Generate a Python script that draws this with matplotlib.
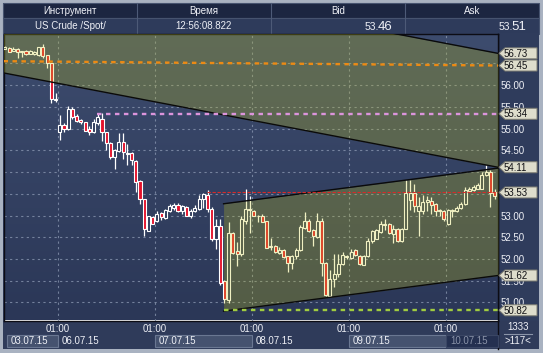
import matplotlib
matplotlib.use("Agg")
import matplotlib.pyplot as plt
from matplotlib.patches import Rectangle, Polygon
from matplotlib.colors import LinearSegmentedColormap
from matplotlib.transforms import blended_transform_factory
import numpy as np

plt.rcParams['font.family'] = ['Liberation Sans', 'DejaVu Sans']

# hourly candles, US Crude /Spot/, 03.07.15 .. 10.07.15
opens = [56.84, 56.86, 56.79, 56.83, 56.75, 56.78, 56.72, 56.71, 56.69, 56.87,
         56.69, 56.50, 55.65, 54.91, 55.09, 54.98, 55.45, 55.29, 55.19, 55.14,
         54.99, 54.91, 55.13, 55.23, 54.91, 54.66, 54.35, 54.48, 54.68, 54.44,
         54.44, 54.26, 53.80, 53.37, 52.65, 52.97, 52.87, 53.05, 52.94, 53.10,
         53.17, 53.25, 53.10, 53.20, 53.00, 53.10, 53.16, 53.37, 53.47, 53.14,
         52.47, 52.77, 51.49, 51.05, 52.60, 52.18, 52.12, 52.88, 53.13, 53.10,
         52.99, 53.00, 52.87, 52.28, 52.31, 52.14, 52.21, 52.06, 51.91, 52.06,
         52.20, 52.72, 52.87, 52.66, 52.51, 52.87, 51.91, 51.16, 51.55, 51.65,
         51.88, 52.05, 52.03, 52.20, 52.08, 51.87, 52.06, 52.41, 52.47, 52.62,
         52.78, 52.81, 52.58, 52.70, 52.41, 52.70, 53.35, 53.52, 53.10, 53.10,
         53.30, 53.33, 53.26, 53.12, 53.10, 52.80, 53.10, 53.10, 53.18, 53.26,
         53.57, 53.58, 53.62, 53.62, 53.93, 54.00, 53.54]
highs = [56.90, 56.88, 56.88, 56.86, 56.79, 56.80, 56.80, 56.78, 56.88, 56.94,
         56.70, 56.51, 55.81, 55.31, 55.13, 55.52, 55.49, 55.33, 55.23, 55.15,
         55.05, 55.23, 55.35, 55.35, 54.93, 54.70, 54.54, 54.89, 54.89, 54.64,
         54.46, 54.27, 53.81, 53.38, 53.00, 52.99, 53.10, 53.07, 53.14, 53.26,
         53.28, 53.28, 53.24, 53.22, 53.16, 53.24, 53.47, 53.52, 53.58, 53.19,
         52.91, 52.91, 51.52, 52.85, 52.62, 52.39, 52.98, 53.62, 53.45, 53.12,
         53.02, 53.04, 52.88, 52.49, 52.33, 52.28, 52.24, 52.08, 52.10, 52.26,
         52.78, 53.08, 52.91, 52.70, 53.06, 52.95, 51.93, 51.74, 52.11, 52.11,
         52.16, 52.10, 52.22, 52.24, 52.09, 52.09, 52.48, 52.66, 52.70, 52.88,
         52.93, 52.83, 52.78, 52.72, 52.72, 53.81, 53.81, 53.73, 53.43, 53.47,
         53.44, 53.43, 53.28, 53.15, 53.12, 53.15, 53.14, 53.21, 53.31, 53.66,
         53.66, 53.70, 53.74, 54.00, 54.16, 54.04, 53.60]
lows = [56.83, 56.75, 56.78, 56.63, 56.65, 56.69, 56.71, 56.70, 56.68, 56.63,
        56.40, 55.58, 55.62, 54.73, 54.91, 54.97, 55.22, 55.14, 55.10, 54.94,
        54.85, 54.90, 55.08, 54.71, 54.50, 54.31, 54.08, 54.46, 54.29, 54.16,
        54.16, 53.54, 53.26, 52.54, 52.64, 52.80, 52.85, 52.90, 52.92, 53.08,
        53.13, 53.08, 53.04, 52.99, 52.95, 53.07, 53.12, 53.18, 53.08, 52.41,
        52.24, 51.41, 50.98, 50.98, 52.12, 51.85, 52.08, 52.80, 52.60, 52.98,
        52.86, 52.84, 52.25, 52.21, 52.14, 52.12, 52.02, 51.70, 51.78, 51.99,
        52.18, 52.70, 52.62, 52.31, 52.49, 51.60, 51.16, 51.14, 51.35, 51.58,
        51.86, 51.99, 51.99, 52.06, 51.87, 51.86, 52.04, 52.37, 52.45, 52.60,
        52.66, 52.57, 52.37, 52.39, 52.38, 52.68, 53.12, 53.07, 52.54, 53.03,
        53.10, 53.04, 52.98, 52.99, 52.87, 52.78, 52.97, 53.07, 53.14, 53.24,
        53.55, 53.56, 53.60, 53.60, 53.91, 53.20, 53.39]
closes = [56.88, 56.77, 56.83, 56.75, 56.78, 56.71, 56.79, 56.77, 56.87, 56.68,
          56.50, 55.68, 55.69, 55.09, 54.98, 55.45, 55.27, 55.17, 55.14, 54.95,
          54.91, 55.14, 55.27, 54.93, 54.66, 54.35, 54.50, 54.68, 54.45, 54.42,
          54.27, 53.76, 53.37, 52.68, 52.98, 52.81, 53.04, 52.96, 53.12, 53.21,
          53.25, 53.10, 53.21, 53.00, 53.10, 53.17, 53.39, 53.49, 53.14, 52.47,
          52.75, 51.45, 51.09, 52.60, 52.14, 52.12, 52.93, 53.14, 53.12, 53.00,
          52.98, 52.85, 52.26, 52.27, 52.16, 52.21, 52.04, 51.91, 52.08, 52.21,
          52.74, 52.87, 52.64, 52.52, 52.87, 51.91, 51.18, 51.55, 51.65, 51.88,
          52.10, 52.06, 52.16, 52.10, 51.88, 52.08, 52.41, 52.64, 52.67, 52.80,
          52.81, 52.60, 52.70, 52.41, 52.70, 53.52, 53.52, 53.21, 53.21, 53.31,
          53.35, 53.24, 53.10, 53.11, 52.93, 53.12, 53.13, 53.18, 53.27, 53.58,
          53.62, 53.66, 53.70, 53.93, 54.00, 53.52, 53.44]

day_labels = ["03.07.15", "06.07.15", "07.07.15", "08.07.15", "09.07.15", "10.07.15"]
day_start = [13, 36, 59, 82, 105]      # index of the 01:00 candle of each day
price_ticks = [51.0, 51.5, 52.0, 52.5, 53.0, 53.5, 54.0, 54.5, 55.0, 55.5, 56.0, 56.5]
hidden_ticks = [53.5, 54.0, 56.5]      # covered by price tags on the scale
tag_values = [56.73, 56.45, 55.34, 54.11, 53.53, 51.62, 50.82]

# drawn objects: two channels and some levels
down_chan = [56.28, 54.11]
down_width = 2.62
up_chan = [50.80, 51.62]
up_width = 2.47
up_from = 51.8
orange_level = [56.55, 56.45]
violet_level, violet_from = 55.34, 21.8
red_level, red_from = 53.53, 47.8
green_level, green_from = 50.82, 51.8

header = ["Инструмент", "Время", "Bid", "Ask"]
instrument = "US Crude /Spot/"
quote_time = "12:56:08.822"
bid = ("53.", "46")
ask = ("53.", "51")
counters = ("1333", ">117<")

W, H = 543, 353
fig = plt.figure(figsize=(W / 100, H / 100), dpi=100)
fig.patch.set_facecolor('#a9b2c1')

# background panels, pixel coordinates
bg = fig.add_axes([0, 0, 1, 1], zorder=0)
bg.set_xlim(0, W)
bg.set_ylim(H, 0)
bg.axis('off')
bg.add_patch(Rectangle((3, 3), 536, 346, fc='#2f3b5a', ec='none'))
bg.add_patch(Rectangle((3, 3), 536, 15, fc='#1c2641', ec='#46536f', lw=0.8))
bg.add_patch(Rectangle((3, 18), 536, 16, fc='#2e3b5b', ec='#46536f', lw=0.8))
col_w = 536 / 4
for k in range(1, 4):
    bg.plot([3 + k * col_w] * 2, [3, 34], color='#4d5a77', lw=0.8)
for k, name in enumerate(header):
    bg.text(3 + (k + 0.5) * col_w, 11, name, ha='center', va='center',
            color='#eef0f6', fontsize=7)
bg.text(3 + 0.5 * col_w, 26, instrument, ha='center', va='center', color='#eef0f6', fontsize=7)
bg.text(3 + 1.5 * col_w, 26, quote_time, ha='center', va='center', color='#eef0f6', fontsize=7)
for k, q in ((2, bid), (3, ask)):
    xr = 3 + (k + 1) * col_w - 13
    bg.text(xr, 26.5, q[1], ha='right', va='center', color='#eef0f6', fontsize=9.5)
    bg.text(xr - 13, 27, q[0], ha='right', va='center', color='#eef0f6', fontsize=7.5)
bg.add_patch(Rectangle((498, 34), 41, 287, fc='#2f3c5c', ec='none'))
bg.text(518, 327, counters[0], ha='center', va='center', color='#eef0f6', fontsize=7)
bg.plot([504, 532], [334, 334], color='#8a94a8', lw=0.8)
bg.text(518, 341, counters[1], ha='center', va='center', color='#eef0f6', fontsize=7)
bg.plot([498, 498], [34, 349], color='#0c0c14', lw=1)

# price chart
ax = fig.add_axes([3.5 / W, (H - 320.5) / H, 494.5 / W, 286.5 / H], zorder=1)
xmin, xmax = -0.33, 116.8
ylo, yhi = 50.585, 57.175
cmap = LinearSegmentedColormap.from_list('bgv', ['#3d4c6e', '#2b3757'])
ax.imshow(np.linspace(0, 1, 256).reshape(-1, 1), extent=[xmin, xmax, ylo, yhi],
          aspect='auto', cmap=cmap, zorder=0)

idx = np.arange(len(opens))
o = np.array(opens)
c = np.array(closes)
up = c >= o
body_lo = np.minimum(o, c)
body_h = np.maximum(np.abs(c - o), 0.02)
ax.vlines(idx, lows, highs, color='white', lw=0.9, zorder=2)
ax.bar(idx, body_h, bottom=body_lo, width=0.72,
       color=np.where(up, '#2e3a5a', '#e4122c'), edgecolor='white', lw=0.8, zorder=3)

# channels (semi-transparent yellow over candles)
xs = [xmin, xmax]
down_up = [v + down_width for v in down_chan]
ax.fill_between(xs, down_chan, down_up, color='#c8c814', alpha=0.26, lw=0, zorder=4)
ax.plot(xs, down_chan, color='#0a0a0a', lw=1, zorder=5)
ax.plot(xs, down_up, color='#0a0a0a', lw=1, zorder=5)
xs2 = [up_from, xmax]
up_up = [v + up_width for v in up_chan]
ax.fill_between(xs2, up_chan, up_up, color='#c8c814', alpha=0.26, lw=0, zorder=4)
ax.plot(xs2, up_chan, color='#0a0a0a', lw=1, zorder=5)
ax.plot(xs2, up_up, color='#0a0a0a', lw=1, zorder=5)

ax.plot(xs, orange_level, color='#ec8a14', lw=1.7, ls=(0, (1.9, 1.9)), zorder=6)
ax.plot([violet_from, xmax], [violet_level] * 2, color='#dc94dc', lw=1.7, ls=(0, (1.9, 1.9)), zorder=6)
ax.plot([red_from, xmax], [red_level] * 2, color='#d82a28', lw=0.8, ls=(0, (3, 1.5)), zorder=6)
ax.plot([green_from, xmax], [green_level] * 2, color='#a0cc40', lw=1.7, ls=(0, (1.9, 1.9)), zorder=6)

ax.set_xlim(xmin, xmax)
ax.set_ylim(ylo, yhi)
ax.yaxis.tick_right()
ax.set_yticks(price_ticks)
ax.set_yticklabels(["" if v in hidden_ticks else f"{v:.2f}" for v in price_ticks])
grid_x = [d - 0.5 for d in day_start]
ax.set_xticks(grid_x)
ax.set_xticklabels(["01:00"] * len(grid_x))
ax.tick_params(axis='both', length=0, labelcolor='#eef0f6', labelsize=7)
ax.tick_params(axis='y', pad=2)
ax.tick_params(axis='x', pad=2.5)
ax.grid(True, color='#8794ae', lw=0.8, ls=(0, (2, 3)), alpha=0.8)
ax.set_axisbelow(True)
for s in ax.spines.values():
    s.set_color('#0c0c14')
    s.set_linewidth(1)

# date boxes under the time axis
trans = blended_transform_factory(ax.transData, ax.transAxes)
edges = [xmin + 0.8] + grid_x + [xmax - 0.1]
for k, lab in enumerate(day_labels):
    x0, x1 = edges[k], edges[k + 1]
    last = k == len(day_labels) - 1
    if last:
        fc, ec, tc = '#243050', '#3a4664', '#8a93a8'
    elif k % 2 == 0:
        fc, ec, tc = '#45526f', '#6a7792', '#eef0f6'
    else:
        fc, ec, tc = 'none', 'none', '#eef0f6'
    ax.add_patch(Rectangle((x0, -0.0925), x1 - x0, 0.042, transform=trans, fc=fc, ec=ec,
                           lw=0.8, clip_on=False, zorder=1))
    ax.text(x0 + 0.9, -0.0715, lab, transform=trans, ha='left', va='center',
            color=tc, fontsize=7, clip_on=False)

# price tags on the right scale
top = fig.add_axes([0, 0, 1, 1], zorder=2)
top.set_xlim(0, W)
top.set_ylim(H, 0)
top.axis('off')
for v in tag_values:
    yc = H - ax.transData.transform((0, v))[1]
    top.add_patch(Polygon([(499, yc), (505, yc - 5.5), (537, yc - 5.5), (537, yc + 5.5),
                           (505, yc + 5.5)], closed=True, fc='#deddcc', ec='#7c7c72', lw=0.7))
    top.text(503.5, yc + 0.3, f"{v:.2f}", ha='left', va='center', color='#101014', fontsize=7)

fig.savefig("out.png", dpi=100, facecolor=fig.get_facecolor())
